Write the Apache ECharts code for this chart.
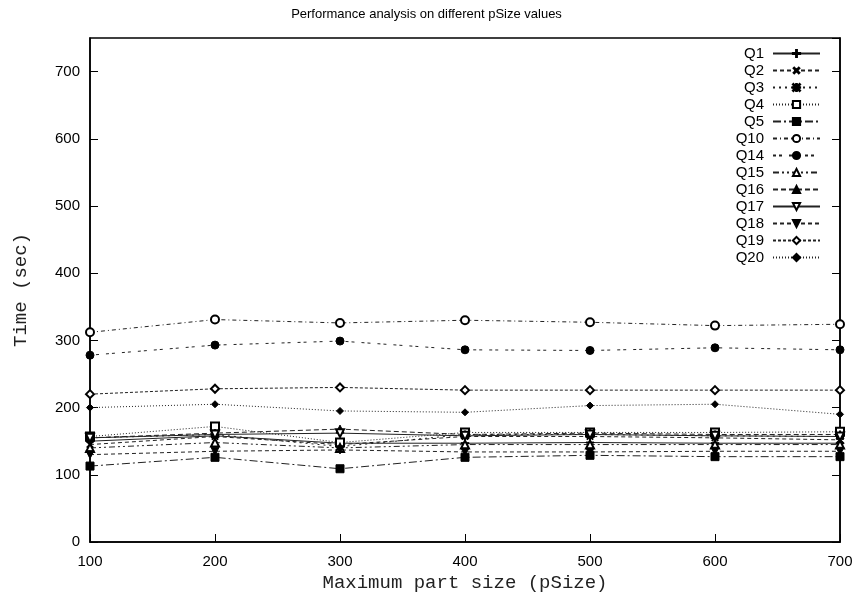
<!DOCTYPE html>
<html>
<head>
<meta charset="utf-8">
<script src="https://cdn.jsdelivr.net/npm/echarts@6/dist/echarts.min.js"></script>
<style>
html,body{margin:0;padding:0;background:#fff;}
#c{width:853px;height:596px;}
</style>
</head>
<body>
<div id="c"></div>
<script>
const xValues = [100, 200, 300, 400, 500, 600, 700];
const seriesNames = ['Q1','Q2','Q3','Q4','Q5','Q10','Q14','Q15','Q16','Q17','Q18','Q19','Q20'];
const Q1  = [150, 158, 147, 147, 148, 147, 147];
const Q2  = [145, 157, 145, 157, 157, 155, 152];
const Q3  = [155, 160, 142, 160, 160, 158, 157];
const Q4  = [157, 172, 148, 163, 163, 163, 164];
const Q5  = [113, 126, 109, 126, 129, 127, 127];
const Q10 = [312, 331, 326, 330, 327, 322, 324];
const Q14 = [278, 293, 299, 286, 285, 289, 286];
const Q15 = [140, 148, 140, 145, 145, 145, 145];
const Q16 = [155, 162, 168, 160, 162, 160, 160];
const Q17 = [155, 160, 162, 158, 160, 158, 157];
const Q18 = [130, 135, 137, 134, 134, 135, 135];
const Q19 = [220, 228, 230, 226, 226, 226, 226];
const Q20 = [200, 205, 195, 193, 203, 205, 190];
const seriesValues = [Q1,Q2,Q3,Q4,Q5,Q10,Q14,Q15,Q16,Q17,Q18,Q19,Q20];

const PLUS = 'path://M4.4,0H5.6V4.4H10V5.6H5.6V10H4.4V5.6H0V4.4H4.4Z';
const STAR = 'path://M4.5,0H5.5V10H4.5Z M0,4.5H10V5.5H0Z M0.7,0L10,9.3L9.3,10L0,0.7Z M9.3,0L10,0.7L0.7,10L0,9.3Z';

const styles = [
  {sym: PLUS, size: 8, dash: 'solid'},
  {sym: PLUS, size: 8, rot: 45, dash: [4,3]},
  {sym: STAR, size: 7, dash: [2,4]},
  {sym: 'emptyRect', size: 8, dash: [1,2]},
  {sym: 'rect', size: 8, dash: [8,3,2,3]},
  {sym: 'emptyCircle', size: 8, dash: [4,3,1,3]},
  {sym: 'circle', size: 8, dash: [3,3,3,7]},
  {sym: 'emptyTriangle', size: 8, dash: [6,3,2,3,2,3]},
  {sym: 'triangle', size: 8, dash: [5,3]},
  {sym: 'emptyTriangle', size: 8, rot: 180, dash: 'solid'},
  {sym: 'triangle', size: 8, rot: 180, dash: [4,3]},
  {sym: 'emptyDiamond', size: 8, dash: [3,2]},
  {sym: 'diamond', size: 7, dash: [1,2]}
];

const chart = echarts.init(document.getElementById('c'), null, {renderer: 'canvas'});
const series = seriesNames.map((name, i) => ({
  name: name,
  type: 'line',
  data: xValues.map((x, j) => [x, seriesValues[i][j]]),
  symbol: styles[i].sym,
  symbolSize: styles[i].size,
  symbolRotate: styles[i].rot || 0,
  showAllSymbol: true,
  animation: false,
  lineStyle: {color: '#222', width: 1, type: styles[i].dash},
  itemStyle: {color: '#000', borderColor: '#000', borderWidth: 1},
  emphasis: {disabled: true}
}));

const axisFont = {color: '#000', fontSize: 15, fontFamily: 'Liberation Sans, Arial, sans-serif'};
const monoFont = {color: '#222', fontSize: 19, fontFamily: 'Liberation Mono, Courier New, monospace'};
chart.setOption({
  animation: false,
  backgroundColor: '#fff',
  title: {
    text: 'Performance analysis on different pSize values',
    left: 'center', top: 3,
    textStyle: {fontSize: 13, fontWeight: 'normal', color: '#000', fontFamily: 'Liberation Sans, Arial, sans-serif'}
  },
  grid: {left: 90, right: 13, top: 38, bottom: 54, show: true, borderColor: '#000', borderWidth: 1.5,
         containLabel: false, outerBoundsMode: 'none'},
  legend: {
    data: seriesNames,
    orient: 'vertical',
    right: 27, top: 41,
    align: 'right',
    itemWidth: 47, itemHeight: 9, itemGap: 2,
    textStyle: {color: '#000', fontSize: 15, lineHeight: 15, fontFamily: 'Liberation Sans, Arial, sans-serif', padding: [0, 4, 0, 0]}
  },
  xAxis: [{
    type: 'value', min: 100, max: 700, interval: 100,
    name: 'Maximum part size (pSize)', nameLocation: 'middle', nameGap: 28,
    nameTextStyle: monoFont,
    axisLine: {lineStyle: {color: '#000', width: 1.5}},
    axisTick: {inside: true, length: 8, lineStyle: {color: '#000', width: 1}},
    axisLabel: Object.assign({margin: 12}, axisFont),
    splitLine: {show: false}
  }],
  yAxis: [{
    type: 'value', min: 0, max: 750, interval: 100, position: 'left',
    name: 'Time (sec)', nameLocation: 'middle', nameGap: 60, nameRotate: 90,
    nameTextStyle: monoFont,
    axisLine: {show: true, lineStyle: {color: '#000', width: 1.5}},
    axisTick: {inside: true, length: 8, lineStyle: {color: '#000', width: 1}},
    axisLabel: Object.assign({margin: 10, showMaxLabel: false}, axisFont),
    splitLine: {show: false}
  }, {
    type: 'value', min: 0, max: 750, interval: 100, position: 'right',
    axisLine: {show: true, lineStyle: {color: '#000', width: 1.5}},
    axisTick: {inside: true, length: 8, lineStyle: {color: '#000', width: 1}},
    axisLabel: {show: false},
    splitLine: {show: false}
  }],
  series: series
});
</script>
</body>
</html>
